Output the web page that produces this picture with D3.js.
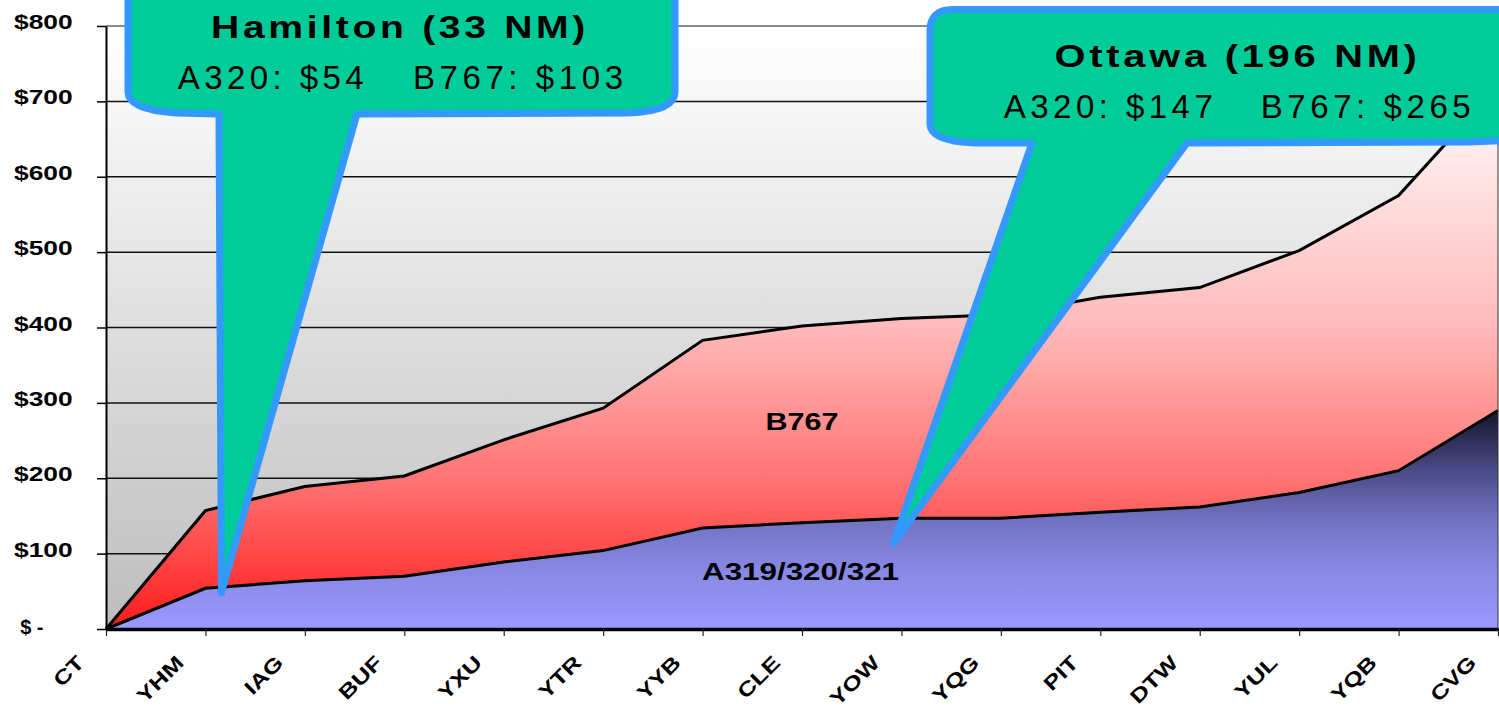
<!DOCTYPE html>
<html><head><meta charset="utf-8">
<script src="https://cdn.jsdelivr.net/npm/d3@7"></script>
<style>html,body{margin:0;padding:0;background:#fff;overflow:hidden}</style>
</head><body>
<svg id="chart" width="1499" height="721"></svg>
<script>
// ---- data ----
const categories = ["CT","YHM","IAG","BUF","YXU","YTR","YYB","CLE","YOW","YQG","PIT","DTW","YUL","YQB","CVG"];
const a320Costs = [0,54,64,70,89,104,134,141,147,147,155,162,181,210,290];
const b767Costs = [0,103,125,133,162,189,249,261,265,270,285,291,321,365,430];
const yTicks = [0,100,200,300,400,500,600,700,800];
const yTickLabels = ["$ -","$100","$200","$300","$400","$500","$600","$700","$800"];
const seriesLabels = ["A319/320/321","B767"];
const calloutTitles = ["Hamilton (33 NM)","Ottawa (196 NM)"];
const calloutLineA = ["A320: $54","A320: $147"];
const calloutLineB = ["B767: $103","B767: $265"];

const FONT = "'Liberation Sans', Arial, Helvetica, sans-serif";

const svg = d3.select("#chart");
const x = d3.scalePoint().domain(categories).range([106, 1498]);
const y = d3.scaleLinear().domain([0, 800]).range([629, 26]);

const rows = categories.map((c, i) => ({cat: c, a320: a320Costs[i], b767: b767Costs[i]}));
const stacked = d3.stack().keys(["a320", "b767"])(rows);

// ---- gradients ----
const defs = svg.append("defs");
function grad(id, y1, y2, stops) {
  const g = defs.append("linearGradient").attr("id", id)
    .attr("gradientUnits", "userSpaceOnUse")
    .attr("x1", 0).attr("x2", 0).attr("y1", y1).attr("y2", y2);
  stops.forEach(s => g.append("stop").attr("offset", s[0]).attr("stop-color", s[1]));
}
grad("bgGrad", y(800), y(0), [[0, "#ffffff"], [1, "#bdbdbd"]]);
grad("redGrad", y(730), y(0), [[0, "#ffffff"], [0.45, "#ffbaba"], [0.72, "#ff7676"], [1, "#ff1c1c"]]);
grad("blueGrad", y(290), y(0), [[0, "#14142a"], [0.27, "#4a4a86"], [0.5, "#7272c4"], [0.73, "#8888e4"], [1, "#9a9aff"]]);

// ---- plot background ----
svg.append("rect")
  .attr("x", x.range()[0]).attr("y", y(800))
  .attr("width", x.range()[1] - x.range()[0]).attr("height", y(0) - y(800))
  .attr("fill", "url(#bgGrad)");

// gridlines
svg.append("g").selectAll("line").data(yTicks.filter(v => v > 0))
  .join("line")
  .attr("x1", x.range()[0]).attr("x2", x.range()[1])
  .attr("y1", d => y(d)).attr("y2", d => y(d))
  .attr("stroke", d => d === 800 ? "#8a8a8a" : "#111")
  .attr("stroke-width", d => d === 800 ? 2 : 1.5);

// ---- areas ----
const area = d3.area().x(d => x(d.data.cat)).y0(d => y(d[0])).y1(d => y(d[1]));
svg.append("path").datum(stacked[1]).attr("d", area).attr("fill", "url(#redGrad)");
svg.append("path").datum(stacked[0]).attr("d", area).attr("fill", "url(#blueGrad)");

const line = d3.line().x(d => x(d.data.cat)).y(d => y(d[1]));
stacked.forEach(s => {
  svg.append("path").datum(s).attr("d", line)
    .attr("fill", "none").attr("stroke", "#000").attr("stroke-width", 3)
    .attr("stroke-linejoin", "miter");
});

// right border
svg.append("line").attr("x1", x.range()[1]).attr("x2", x.range()[1])
  .attr("y1", y(800)).attr("y2", y(0)).attr("stroke", "#333").attr("stroke-width", 1);

// ---- axes ----
const yAxis = svg.append("g").attr("transform", `translate(${x.range()[0]},0)`)
  .call(d3.axisLeft(y).tickValues(yTicks).tickSize(9).tickSizeOuter(0)
    .tickFormat((d, i) => yTickLabels[i]));
yAxis.select(".domain").attr("stroke", "#000").attr("stroke-width", 2);
yAxis.selectAll(".tick line").attr("stroke", "#000").attr("stroke-width", 1.5);
yAxis.selectAll(".tick text")
  .attr("x", null).attr("dy", null)
  .attr("text-anchor", "end")
  .attr("font-family", FONT).attr("font-weight", "bold").attr("font-size", 20)
  .attr("fill", "#000")
  .attr("transform", d => d === 0 ? "translate(-62.5,4)" : "translate(-33.3,2.6) scale(1.32,1)");

const xAxis = svg.append("g").attr("transform", `translate(0,${y(0)})`)
  .call(d3.axisBottom(x).tickSize(7).tickSizeOuter(0));
xAxis.select(".domain").attr("stroke", "#000").attr("stroke-width", 3.5);
xAxis.selectAll(".tick line").attr("stroke", "#222").attr("stroke-width", 1.2);
xAxis.selectAll(".tick text")
  .attr("y", null).attr("dy", null)
  .attr("text-anchor", "end")
  .attr("font-family", FONT).attr("font-weight", "bold").attr("font-size", 20)
  .attr("fill", "#000")
  .attr("transform", "translate(-21,35) rotate(-45) scale(1.27,1)");

// ---- series labels ----
svg.append("text").text(seriesLabels[1])
  .attr("x", x("CLE")).attr("y", y(264))
  .attr("text-anchor", "middle").attr("font-family", FONT).attr("font-weight", "bold")
  .attr("font-size", 24).attr("textLength", 73).attr("lengthAdjust", "spacingAndGlyphs");
svg.append("text").text(seriesLabels[0])
  .attr("x", x("CLE") - 1.5).attr("y", y(65))
  .attr("text-anchor", "middle").attr("font-family", FONT).attr("font-weight", "bold")
  .attr("font-size", 24).attr("textLength", 197).attr("lengthAdjust", "spacingAndGlyphs");

// ---- callouts ----
const tipH = [x("YHM") + 16, y(48)];
const tipO = [x("YOW") - 8, y(114)];
const callouts = [
  {
    path: `M140,-12 L663,-12 Q675,-12 675,0 L675,92 C675,106 658,112 628,113 L357,114 L${tipH[0]},${tipH[1]} L219,114 L176,113 C146,111 128,104 128,92 L128,0 Q128,-12 140,-12 Z`,
    title: {x: 211, y: 38, w: 378},
    a: {x: 177.7, w: 186}, b: {x: 413, w: 210}, lineY: 89.3
  },
  {
    path: `M1520,9.5 L952,9.5 C938,9.5 930,17 930,30 L930,124 C930,136 948,142 975,143 L1032,143 L${tipO[0]},${tipO[1]} L1187,143 L1470,142 L1520,140 Z`,
    title: {x: 1054.6, y: 67, w: 366},
    a: {x: 1003.8, w: 209}, b: {x: 1260.7, w: 210}, lineY: 118.3
  }
];
callouts.forEach((c, i) => {
  const g = svg.append("g");
  g.append("path").attr("d", c.path)
    .attr("fill", "#00cc99").attr("stroke", "#3399ff").attr("stroke-width", 7)
    .attr("stroke-linejoin", "round");
  g.append("text").text(calloutTitles[i])
    .attr("x", c.title.x).attr("y", c.title.y)
    .attr("font-family", FONT).attr("font-weight", "bold").attr("font-size", 32)
    .attr("letter-spacing", 3)
    .attr("fill", "#000")
    .attr("textLength", c.title.w).attr("lengthAdjust", "spacingAndGlyphs");
  g.append("text").text(calloutLineA[i])
    .attr("x", c.a.x).attr("y", c.lineY)
    .attr("font-family", FONT).attr("font-size", 33).attr("fill", "#000")
    .attr("textLength", c.a.w).attr("lengthAdjust", "spacing");
  g.append("text").text(calloutLineB[i])
    .attr("x", c.b.x).attr("y", c.lineY)
    .attr("font-family", FONT).attr("font-size", 33).attr("fill", "#000")
    .attr("textLength", c.b.w).attr("lengthAdjust", "spacing");
});
</script>
</body></html>
